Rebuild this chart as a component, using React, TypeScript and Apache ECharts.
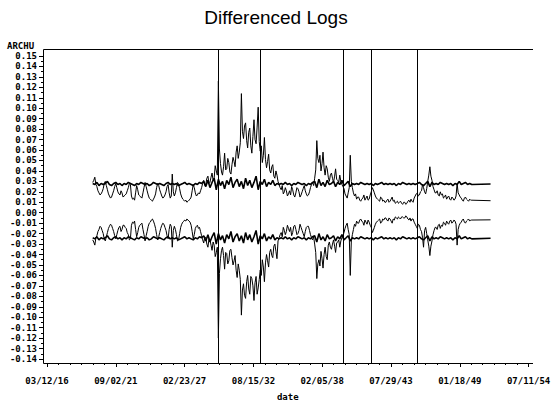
import React, { useEffect, useRef } from "react";
import * as echarts from "echarts";

// ---- axis definitions (days counted from 03/12/1916) ----
const EPOCH = Date.UTC(1916, 2, 12);
const DAY_MS = 86400000;
const toDay = (y: number, m: number, d: number) =>
  Math.round((Date.UTC(y, m - 1, d) - EPOCH) / DAY_MS);

const xMin = 0;
const xMax = 14000;
const xStep = 2000;
const yMin = -0.14;
const yMax = 0.15;
const yStep = 0.01;

// ---- sampling: series start Nov 1919 ----
const firstYear = 1919;
const firstMonth = 11;
const archMonthStep = 1; // ARCH bands: one value per month
const olsMonthStep = 2; // constant-variance bands: one value every 2 months
const forecastEnd: [number, number, number] = [1951, 7, 1];

// vertical reference lines
const eventDates: [number, number, number][] = [
  [1929, 10, 29],
  [1933, 3, 4],
  [1939, 10, 1],
  [1942, 1, 1],
  [1945, 9, 1],
];

// ARCH upper band (monthly, 12 per row = Nov..Oct)
const archUpper = [
  0.029, 0.031, 0.034, 0.027, 0.025, 0.021, 0.019, 0.017, 0.018, 0.020, 0.023, 0.028,
  0.030, 0.026, 0.022, 0.018, 0.016, 0.014, 0.015, 0.018, 0.021, 0.025, 0.028, 0.024,
  0.020, 0.018, 0.017, 0.021, 0.019, 0.015, 0.016, 0.017, 0.018, 0.021, 0.024, 0.028,
  0.027, 0.016, 0.013, 0.014, 0.012, 0.019, 0.026, 0.022, 0.017, 0.016, 0.015, 0.014,
  0.019, 0.024, 0.029, 0.025, 0.021, 0.017, 0.014, 0.013, 0.012, 0.011, 0.013, 0.015,
  0.018, 0.024, 0.028, 0.026, 0.022, 0.019, 0.016, 0.014, 0.015, 0.017, 0.020, 0.025,
  0.027, 0.019, 0.014, 0.016, 0.037, 0.020, 0.016, 0.019, 0.024, 0.029, 0.028, 0.023,
  0.018, 0.015, 0.013, 0.012, 0.011, 0.012, 0.010, 0.011, 0.012, 0.013, 0.015, 0.021,
  0.027, 0.024, 0.019, 0.016, 0.017, 0.019, 0.018, 0.021, 0.024, 0.028, 0.031, 0.026,
  0.027, 0.033, 0.035, 0.028, 0.029, 0.034, 0.038, 0.031, 0.033, 0.045, 0.040, 0.036,
  0.126, 0.061, 0.047, 0.039, 0.036, 0.044, 0.057, 0.041, 0.042, 0.052, 0.048, 0.039,
  0.037, 0.046, 0.053, 0.049, 0.044, 0.058, 0.064, 0.052, 0.058, 0.067, 0.114, 0.078,
  0.071, 0.083, 0.086, 0.069, 0.062, 0.077, 0.081, 0.064, 0.057, 0.073, 0.089, 0.070,
  0.066, 0.082, 0.101, 0.068, 0.059, 0.064, 0.048, 0.055, 0.072, 0.051, 0.043, 0.049,
  0.056, 0.041, 0.038, 0.044, 0.046, 0.035, 0.033, 0.040, 0.036, 0.030, 0.027, 0.024,
  0.022, 0.026, 0.018, 0.020, 0.024, 0.021, 0.016, 0.018, 0.021, 0.017, 0.025, 0.022,
  0.017, 0.015, 0.019, 0.024, 0.023, 0.020, 0.015, 0.017, 0.020, 0.023, 0.026, 0.021,
  0.018, 0.016, 0.017, 0.020, 0.024, 0.027, 0.029, 0.026, 0.033, 0.041, 0.069, 0.052,
  0.048, 0.055, 0.040, 0.047, 0.058, 0.043, 0.036, 0.045, 0.042, 0.034, 0.030, 0.036,
  0.038, 0.033, 0.029, 0.035, 0.042, 0.032, 0.031, 0.029, 0.036, 0.030, 0.027, 0.025,
  0.023, 0.018, 0.016, 0.014, 0.019, 0.024, 0.055, 0.030, 0.024, 0.019, 0.016, 0.018,
  0.013, 0.015, 0.015, 0.012, 0.011, 0.013, 0.014, 0.017, 0.012, 0.014, 0.016, 0.012,
  0.013, 0.017, 0.020, 0.024, 0.022, 0.019, 0.016, 0.014, 0.013, 0.012, 0.011, 0.015,
  0.014, 0.011, 0.012, 0.010, 0.010, 0.012, 0.013, 0.010, 0.011, 0.013, 0.015, 0.011,
  0.012, 0.009, 0.010, 0.011, 0.009, 0.010, 0.011, 0.009, 0.008, 0.010, 0.010, 0.008,
  0.009, 0.011, 0.012, 0.010, 0.013, 0.011, 0.010, 0.014, 0.016, 0.018, 0.019, 0.016,
  0.017, 0.020, 0.021, 0.027, 0.024, 0.020, 0.018, 0.023, 0.030, 0.036, 0.044, 0.035,
  0.031, 0.025, 0.022, 0.019, 0.019, 0.021, 0.017, 0.016, 0.020, 0.017, 0.018, 0.014,
  0.015, 0.017, 0.013, 0.015, 0.016, 0.013, 0.012, 0.015, 0.014, 0.012, 0.013, 0.016,
  0.028, 0.019, 0.017, 0.015, 0.014, 0.012, 0.011, 0.014, 0.015, 0.013, 0.012, 0.011,
  0.013, 0.012, 0.012,
];
const archUpperForecast = 0.0115;

// ARCH lower band (monthly)
const archLower = [
  -0.026, -0.028, -0.031, -0.024, -0.022, -0.018, -0.016, -0.013, -0.014, -0.017, -0.020, -0.025,
  -0.027, -0.023, -0.019, -0.015, -0.013, -0.011, -0.012, -0.015, -0.018, -0.022, -0.025, -0.021,
  -0.017, -0.014, -0.013, -0.018, -0.016, -0.012, -0.012, -0.014, -0.015, -0.019, -0.021, -0.026,
  -0.025, -0.012, -0.009, -0.010, -0.008, -0.016, -0.023, -0.019, -0.014, -0.012, -0.011, -0.010,
  -0.016, -0.021, -0.027, -0.022, -0.018, -0.013, -0.010, -0.009, -0.007, -0.006, -0.008, -0.011,
  -0.015, -0.021, -0.026, -0.023, -0.019, -0.015, -0.012, -0.010, -0.011, -0.014, -0.017, -0.022,
  -0.025, -0.016, -0.011, -0.013, -0.033, -0.017, -0.013, -0.016, -0.021, -0.027, -0.026, -0.020,
  -0.014, -0.011, -0.009, -0.008, -0.007, -0.008, -0.006, -0.007, -0.008, -0.009, -0.012, -0.018,
  -0.025, -0.021, -0.015, -0.013, -0.012, -0.015, -0.014, -0.018, -0.022, -0.026, -0.029, -0.023,
  -0.024, -0.030, -0.033, -0.025, -0.026, -0.031, -0.036, -0.028, -0.031, -0.042, -0.038, -0.033,
  -0.120, -0.058, -0.044, -0.036, -0.033, -0.041, -0.054, -0.038, -0.039, -0.049, -0.046, -0.036,
  -0.035, -0.043, -0.050, -0.046, -0.041, -0.055, -0.062, -0.049, -0.055, -0.064, -0.098, -0.074,
  -0.068, -0.079, -0.082, -0.066, -0.060, -0.073, -0.078, -0.061, -0.063, -0.070, -0.084, -0.067,
  -0.061, -0.078, -0.072, -0.064, -0.055, -0.060, -0.045, -0.052, -0.066, -0.048, -0.040, -0.046,
  -0.052, -0.038, -0.035, -0.041, -0.043, -0.032, -0.030, -0.037, -0.044, -0.027, -0.024, -0.021,
  -0.019, -0.023, -0.014, -0.017, -0.021, -0.018, -0.012, -0.015, -0.018, -0.014, -0.022, -0.019,
  -0.013, -0.012, -0.016, -0.021, -0.020, -0.017, -0.011, -0.014, -0.017, -0.020, -0.023, -0.018,
  -0.014, -0.013, -0.013, -0.017, -0.021, -0.024, -0.026, -0.023, -0.030, -0.038, -0.063, -0.049,
  -0.045, -0.051, -0.037, -0.044, -0.053, -0.040, -0.033, -0.042, -0.045, -0.031, -0.028, -0.033,
  -0.035, -0.030, -0.026, -0.032, -0.038, -0.029, -0.028, -0.026, -0.033, -0.027, -0.024, -0.022,
  -0.019, -0.015, -0.012, -0.010, -0.016, -0.021, -0.060, -0.027, -0.021, -0.016, -0.011, -0.013,
  -0.008, -0.010, -0.010, -0.007, -0.006, -0.008, -0.009, -0.012, -0.007, -0.009, -0.011, -0.007,
  -0.009, -0.012, -0.014, -0.019, -0.017, -0.014, -0.011, -0.009, -0.008, -0.007, -0.006, -0.010,
  -0.009, -0.006, -0.007, -0.005, -0.005, -0.007, -0.008, -0.005, -0.006, -0.008, -0.010, -0.006,
  -0.007, -0.004, -0.005, -0.006, -0.004, -0.005, -0.006, -0.004, -0.004, -0.005, -0.005, -0.003,
  -0.004, -0.006, -0.007, -0.005, -0.008, -0.006, -0.006, -0.009, -0.011, -0.013, -0.015, -0.011,
  -0.012, -0.016, -0.018, -0.024, -0.033, -0.017, -0.014, -0.020, -0.026, -0.032, -0.041, -0.032,
  -0.027, -0.021, -0.017, -0.014, -0.014, -0.016, -0.012, -0.011, -0.015, -0.012, -0.013, -0.009,
  -0.010, -0.012, -0.008, -0.010, -0.011, -0.008, -0.007, -0.010, -0.009, -0.007, -0.008, -0.011,
  -0.031, -0.016, -0.012, -0.010, -0.009, -0.007, -0.006, -0.009, -0.010, -0.008, -0.007, -0.006,
  -0.008, -0.007, -0.007,
];
const archLowerForecast = -0.0068;

// constant-variance upper band (every 2 months)
const olsUpper = [
  0.028, 0.027, 0.029, 0.026, 0.028, 0.027, 0.028, 0.030, 0.027, 0.026,
  0.028, 0.029, 0.027, 0.028, 0.026, 0.028, 0.027, 0.029, 0.028, 0.027,
  0.026, 0.028, 0.027, 0.029, 0.028, 0.027, 0.028, 0.026, 0.027, 0.029,
  0.028, 0.027, 0.028, 0.027, 0.026, 0.028, 0.029, 0.027, 0.028, 0.027,
  0.028, 0.026, 0.027, 0.028, 0.029, 0.027, 0.028, 0.027, 0.026, 0.028,
  0.027, 0.029, 0.028, 0.030, 0.025, 0.031, 0.024, 0.029, 0.033, 0.022,
  0.032, 0.026, 0.030, 0.023, 0.031, 0.027, 0.034, 0.024, 0.029, 0.032,
  0.025, 0.030, 0.023, 0.033, 0.026, 0.031, 0.024, 0.029, 0.035, 0.022,
  0.030, 0.027, 0.032, 0.025, 0.029, 0.027, 0.031, 0.026, 0.028, 0.027,
  0.028, 0.027, 0.029, 0.027, 0.028, 0.026, 0.028, 0.027, 0.029, 0.028,
  0.027, 0.028, 0.026, 0.028, 0.027, 0.029, 0.030, 0.024, 0.032, 0.026,
  0.029, 0.025, 0.031, 0.027, 0.028, 0.030, 0.025, 0.029, 0.027, 0.031,
  0.026, 0.028, 0.030, 0.025, 0.028, 0.027, 0.028, 0.027, 0.029, 0.028,
  0.027, 0.028, 0.027, 0.028, 0.026, 0.028, 0.027, 0.028, 0.029, 0.027,
  0.028, 0.027, 0.028, 0.027, 0.028, 0.026, 0.028, 0.027, 0.029, 0.028,
  0.027, 0.028, 0.027, 0.028, 0.027, 0.028, 0.029, 0.027, 0.026, 0.028,
  0.030, 0.025, 0.029, 0.027, 0.028, 0.027, 0.029, 0.028, 0.027, 0.028,
  0.027, 0.028, 0.026, 0.028, 0.027, 0.030, 0.027, 0.028, 0.029, 0.027,
  0.028, 0.027,
];
const olsUpperForecast = 0.0275;

// constant-variance lower band (every 2 months)
const olsLower = [
  -0.024, -0.025, -0.023, -0.026, -0.024, -0.025, -0.024, -0.022, -0.025, -0.026,
  -0.024, -0.023, -0.025, -0.024, -0.026, -0.024, -0.025, -0.023, -0.024, -0.025,
  -0.026, -0.024, -0.025, -0.023, -0.024, -0.025, -0.024, -0.026, -0.025, -0.023,
  -0.024, -0.025, -0.024, -0.025, -0.026, -0.024, -0.023, -0.025, -0.024, -0.025,
  -0.024, -0.026, -0.025, -0.024, -0.023, -0.025, -0.024, -0.025, -0.026, -0.024,
  -0.025, -0.023, -0.024, -0.022, -0.027, -0.021, -0.028, -0.023, -0.019, -0.030,
  -0.020, -0.026, -0.022, -0.029, -0.021, -0.025, -0.018, -0.028, -0.023, -0.020,
  -0.027, -0.022, -0.029, -0.019, -0.026, -0.021, -0.028, -0.023, -0.017, -0.030,
  -0.022, -0.025, -0.020, -0.027, -0.023, -0.025, -0.021, -0.026, -0.024, -0.025,
  -0.024, -0.025, -0.023, -0.025, -0.024, -0.026, -0.024, -0.025, -0.023, -0.024,
  -0.025, -0.024, -0.026, -0.024, -0.025, -0.023, -0.022, -0.028, -0.020, -0.026,
  -0.023, -0.027, -0.021, -0.025, -0.024, -0.022, -0.027, -0.023, -0.025, -0.021,
  -0.026, -0.024, -0.022, -0.027, -0.024, -0.025, -0.024, -0.025, -0.023, -0.024,
  -0.025, -0.024, -0.025, -0.024, -0.026, -0.024, -0.025, -0.024, -0.023, -0.025,
  -0.024, -0.025, -0.024, -0.025, -0.024, -0.026, -0.024, -0.025, -0.023, -0.024,
  -0.025, -0.024, -0.025, -0.024, -0.025, -0.024, -0.023, -0.025, -0.026, -0.024,
  -0.022, -0.027, -0.023, -0.025, -0.024, -0.025, -0.023, -0.024, -0.025, -0.024,
  -0.025, -0.024, -0.026, -0.024, -0.025, -0.022, -0.025, -0.024, -0.023, -0.025,
  -0.024, -0.025,
];
const olsLowerForecast = -0.0245;

const pad2 = (n: number) => (n < 10 ? "0" + n : "" + n);
const fmtDate = (v: number) => {
  const d = new Date(EPOCH + v * DAY_MS);
  return pad2(d.getUTCMonth() + 1) + "/" + pad2(d.getUTCDate()) + "/" + pad2(d.getUTCFullYear() % 100);
};
const fmtY = (v: number) => {
  const r = Math.round(v * 100) / 100;
  const s = Math.abs(r).toFixed(2);
  return r < 0 ? "-" + s : s;
};

const pointDay = (i: number, step: number) =>
  Math.round((Date.UTC(firstYear, firstMonth - 1 + step * i, 1) - EPOCH) / DAY_MS);

const buildSeries = (vals: number[], step: number, fc: number) => {
  const pts: [number, number][] = vals.map((v, i) => [pointDay(i, step), v]);
  const lastDay = pointDay(vals.length - 1, step);
  pts.push([lastDay, fc]);
  pts.push([toDay(forecastEnd[0], forecastEnd[1], forecastEnd[2]), fc]);
  return pts;
};

const MONO = "'DejaVu Sans Mono', monospace";

export default function App() {
  const ref = useRef<HTMLDivElement>(null);
  useEffect(() => {
    document.body.style.margin = "0";
    if (!ref.current) return;
    const chart = echarts.init(ref.current, undefined, { renderer: "svg" });
    const lineStyle = { color: "#000", width: 1 };
    const mkLine = (name: string, data: [number, number][], width: number) => ({
      name,
      type: "line",
      data,
      showSymbol: false,
      symbol: "none",
      lineStyle: { color: "#000", width },
      itemStyle: { color: "#000" },
      clip: false,
      silent: true,
      z: 3,
    });
    chart.setOption({
      animation: false,
      backgroundColor: "#fff",
      title: [
        {
          text: "Differenced Logs",
          left: "center",
          top: 8,
          padding: 0,
          textStyle: { fontFamily: "'Liberation Sans', sans-serif", fontSize: 19, fontWeight: "normal", color: "#000" },
        },
        {
          text: "ARCHU",
          left: 7,
          top: 41,
          padding: 0,
          textStyle: { fontFamily: MONO, fontSize: 9, lineHeight: 9, fontWeight: "bold", color: "#000" },
        },
      ],
      grid: { left: 47, right: 23.4, top: 56, bottom: 46, containLabel: false, outerBoundsMode: "none" },
      xAxis: {
        type: "value",
        min: xMin,
        max: xMax,
        interval: xStep,
        offset: 4,
        axisLine: { show: true, onZero: false, lineStyle },
        axisTick: { show: true, length: 4, lineStyle },
        minorTick: { show: true, splitNumber: 6, length: 2, lineStyle },
        splitLine: { show: false },
        minorSplitLine: { show: false },
        axisLabel: {
          formatter: fmtDate,
          fontFamily: MONO,
          fontWeight: "bold",
          fontSize: 9,
          lineHeight: 9,
          color: "#000",
          margin: 13,
          showMinLabel: true,
          showMaxLabel: true,
        },
        name: "date",
        nameLocation: "middle",
        nameGap: 29,
        nameTextStyle: { fontFamily: MONO, fontWeight: "bold", fontSize: 9, lineHeight: 9, color: "#000" },
      },
      yAxis: {
        type: "value",
        min: yMin,
        max: yMax,
        interval: yStep,
        offset: 4,
        axisLine: { show: true, onZero: false, lineStyle },
        axisTick: { show: true, length: 4, lineStyle },
        minorTick: { show: true, splitNumber: 2, length: 2, lineStyle },
        splitLine: { show: false },
        minorSplitLine: { show: false },
        axisLabel: {
          formatter: fmtY,
          fontFamily: MONO,
          fontWeight: "bold",
          fontSize: 9,
          lineHeight: 9,
          color: "#000",
          margin: 6,
          showMinLabel: true,
          showMaxLabel: true,
        },
      },
      graphic: [
        { type: "line", shape: { x1: 43.5, y1: 49.5, x2: 533, y2: 49.5 }, style: { stroke: "#000", lineWidth: 1 }, silent: true },
        { type: "line", shape: { x1: 43.5, y1: 49.5, x2: 43.5, y2: 363.5 }, style: { stroke: "#000", lineWidth: 1 }, silent: true },
        { type: "line", shape: { x1: 43.5, y1: 363.5, x2: 533, y2: 363.5 }, style: { stroke: "#000", lineWidth: 1 }, silent: true },
      ],
      series: [
        {
          name: "events",
          type: "custom",
          data: eventDates.map((d) => [toDay(d[0], d[1], d[2]), 0]),
          encode: { x: 0, y: 1 },
          clip: false,
          silent: true,
          z: 2,
          renderItem: (params: any, api: any) => {
            const pt = api.coord([api.value(0), api.value(1)]);
            const cs = params.coordSys;
            const x = Math.round(pt[0]) + 0.5;
            return {
              type: "line",
              shape: { x1: x, y1: cs.y - 6.5, x2: x, y2: cs.y + cs.height + 4.5 },
              style: { stroke: "#000", lineWidth: 1 },
            };
          },
        },
        mkLine("olsUpper", buildSeries(olsUpper, olsMonthStep, olsUpperForecast), 1.6),
        mkLine("olsLower", buildSeries(olsLower, olsMonthStep, olsLowerForecast), 1.6),
        mkLine("archUpper", buildSeries(archUpper, archMonthStep, archUpperForecast), 1),
        mkLine("archLower", buildSeries(archLower, archMonthStep, archLowerForecast), 1),
      ],
    });
    return () => chart.dispose();
  }, []);
  return <div ref={ref} style={{ width: 552, height: 405 }} />;
}
